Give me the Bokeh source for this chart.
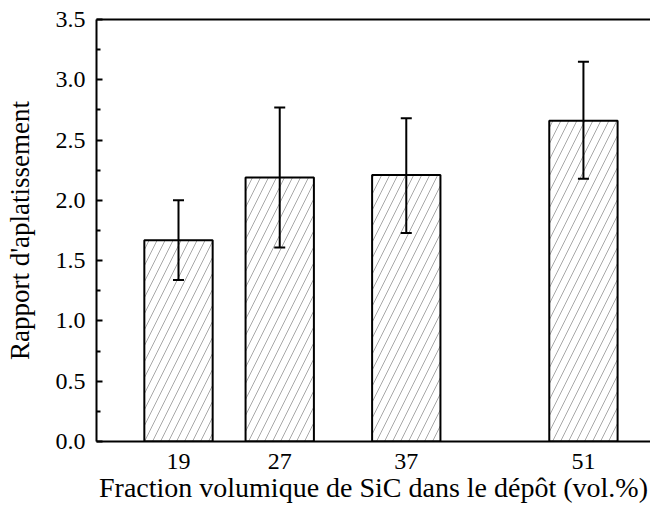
from bokeh.plotting import figure
from bokeh.models import (ColumnDataSource, FixedTicker, LinearAxis, Range1d,
                          Whisker, TeeHead, PrintfTickFormatter)
from bokeh.embed import file_html
from bokeh.resources import INLINE

# Data
sic_fraction = [19, 27, 37, 51]
flattening_ratio = [1.67, 2.19, 2.21, 2.66]
err_upper = [2.00, 2.77, 2.68, 3.15]
err_lower = [1.34, 1.61, 1.73, 2.18]
y_ticks = [0.0, 0.5, 1.0, 1.5, 2.0, 2.5, 3.0, 3.5]
y_minor_ticks = [0.25, 0.75, 1.25, 1.75, 2.25, 2.75, 3.25]

src = ColumnDataSource(dict(x=sic_fraction, top=flattening_ratio,
                            upper=err_upper, lower=err_lower))

FONT = "Liberation Serif"

p = figure(width=650, height=505, output_backend="svg", toolbar_location=None,
           x_range=Range1d(12.52, 56.3), y_range=Range1d(0, 3.5),
           min_border_left=96, min_border_right=0, min_border_top=19, min_border_bottom=64)
p.outline_line_color = None
p.xgrid.visible = False
p.ygrid.visible = False
p.background_fill_color = "white"
p.border_fill_color = "white"

p.vbar(x="x", top="top", width=5.4, bottom=0, source=src,
       fill_color="white", line_color="black", line_width=2,
       hatch_pattern="/", hatch_color="#a8a8a8", hatch_weight=1, hatch_scale=16)

w = Whisker(base="x", upper="upper", lower="lower", source=src,
            line_color="black", line_width=2, level="overlay",
            upper_head=TeeHead(size=11, line_width=2, line_color="black"),
            lower_head=TeeHead(size=11, line_width=2, line_color="black"))
p.add_layout(w)

# x axis
xa = p.xaxis[0]
xa.ticker = FixedTicker(ticks=sic_fraction)
xa.major_tick_line_color = None
xa.minor_tick_line_color = None
xa.axis_line_width = 2
xa.axis_line_color = "black"
xa.major_label_text_font = FONT
xa.major_label_text_font_size = "24px"
xa.major_label_text_color = "black"
xa.major_label_standoff = 6
xa.axis_label = "Fraction volumique de SiC dans le dépôt (vol.%)"
xa.axis_label_text_font = FONT
xa.axis_label_text_font_size = "28px"
xa.axis_label_text_font_style = "normal"
xa.axis_label_text_color = "black"
xa.axis_label_standoff = 0

# y axis
ya = p.yaxis[0]
ya.ticker = FixedTicker(ticks=y_ticks, minor_ticks=y_minor_ticks)
ya.formatter = PrintfTickFormatter(format="%.1f")
ya.major_tick_in = 6
ya.major_tick_out = 0
ya.minor_tick_in = 4
ya.minor_tick_out = 0
ya.major_tick_line_width = 2
ya.minor_tick_line_width = 2
ya.axis_line_width = 2
ya.axis_line_color = "black"
ya.major_label_text_font = FONT
ya.major_label_text_font_size = "24px"
ya.major_label_text_color = "black"
ya.major_label_standoff = 11
ya.axis_label = "Rapport d'aplatissement"
ya.axis_label_text_font = FONT
ya.axis_label_text_font_size = "27px"
ya.axis_label_text_font_style = "normal"
ya.axis_label_text_color = "black"
ya.axis_label_standoff = 18

# top border line
top = LinearAxis(ticker=FixedTicker(ticks=[]), major_label_text_font_size="0px",
                 axis_line_width=2, axis_line_color="black",
                 major_tick_line_color=None, minor_tick_line_color=None)
p.add_layout(top, "above")

open("out.html", "w").write(file_html(p, INLINE))
